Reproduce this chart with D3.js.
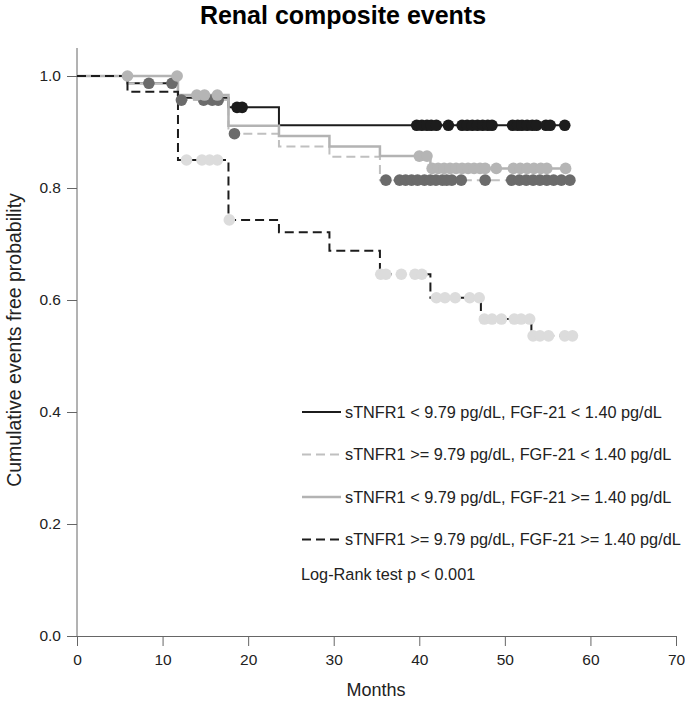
<!DOCTYPE html>
<html>
<head>
<meta charset="utf-8">
<script src="https://cdn.jsdelivr.net/npm/d3@7"></script>
<style>
  body { margin: 0; background: #fff; }
  svg { display: block; font-family: "Liberation Sans", Arial, sans-serif; }
  .tick text { font-size: 15.5px; fill: #222; }
  .tick line, .domain { stroke: #666; }
</style>
</head>
<body>
<svg width="685" height="709"></svg>
<script>
// visit-based event times (months)
const g1Times = [0, 5.9, 11.8, 17.7, 23.6];
const g1Surv = [1, 0.987, 0.961, 0.944, 0.912];
const g1Censor = [18.7, 19.3, 39.7, 40.3, 40.9, 41.4, 42, 43.4, 45, 45.6, 46.2, 46.8, 47.4, 48, 48.5,
  50.9, 51.5, 52, 52.6, 53.2, 53.7, 54.8, 55.3, 57];

const g2Times = [0, 5.9, 11.8, 17.7, 23.6, 29.5, 35.4];
const g2Surv = [1, 0.987, 0.957, 0.897, 0.874, 0.856, 0.814];
const g2Censor = [8.4, 11.1, 12.2, 14.8, 15.8, 16.5, 18.4, 36.1, 37.7, 38.4, 39.1, 39.8, 40.6, 41.3,
  41.95, 42.7, 43.2, 43.8, 44.9, 47.7, 50.8, 51.7, 52.5, 53.3, 54.1, 54.9, 55.7, 56.6, 57.6];

const g3Times = [0, 11.8, 17.7, 23.6, 29.5, 35.4, 41.3];
const g3Surv = [1, 0.966, 0.911, 0.893, 0.874, 0.857, 0.835];
const g3Censor = [5.9, 11.7, 14, 14.9, 16.4, 40, 40.9, 41.5, 42.2, 42.9, 43.6, 44.3, 45, 45.7, 46.4,
  47.1, 47.7, 49, 51, 51.8, 52.6, 53.4, 54.2, 54.9, 57.1];

const g4Times = [0, 5.9, 11.8, 17.7, 23.6, 29.5, 35.4, 41.3, 47.2, 53.1];
const g4Surv = [1, 0.972, 0.85, 0.743, 0.721, 0.688, 0.646, 0.604, 0.566, 0.536];
const g4Censor = [12.8, 14.6, 15.5, 16.4, 17.8, 35.5, 36.1, 37.9, 39.5, 40.3, 42, 43, 44.2, 45.9, 47,
  47.6, 48.5, 49.6, 51.1, 51.9, 52.9, 53.3, 54.1, 55.1, 57, 57.9];

const legendLabels = [
  "sTNFR1 < 9.79 pg/dL, FGF-21 < 1.40 pg/dL",
  "sTNFR1 >= 9.79 pg/dL, FGF-21 < 1.40 pg/dL",
  "sTNFR1 < 9.79 pg/dL, FGF-21 >= 1.40 pg/dL",
  "sTNFR1 >= 9.79 pg/dL, FGF-21 >= 1.40 pg/dL"
];
const xTicks = [0, 10, 20, 30, 40, 50, 60, 70];
const yTicks = [0, 0.2, 0.4, 0.6, 0.8, 1.0];

const groups = [
  { times: g1Times, surv: g1Surv, censor: g1Censor, line: "#1c1c1c", dash: null, width: 2, mark: "#1c1c1c" },
  { times: g2Times, surv: g2Surv, censor: g2Censor, line: "#c0c0c0", dash: "9,5", width: 2, mark: "#6b6b6b" },
  { times: g3Times, surv: g3Surv, censor: g3Censor, line: "#b3b3b3", dash: null, width: 2.5, mark: "#b5b5b5" },
  { times: g4Times, surv: g4Surv, censor: g4Censor, line: "#1c1c1c", dash: "9,5", width: 2, mark: "#dcdcdc" }
];

const svg = d3.select("svg");
const x = d3.scaleLinear().domain([0, 70]).range([77, 676]);
const y = d3.scaleLinear().domain([0, 1]).range([636, 76]);

svg.append("text")
  .attr("x", 343).attr("y", 24)
  .attr("text-anchor", "middle")
  .style("font-size", "25px").style("font-weight", "bold")
  .text("Renal composite events");

// axes
const yAxis = svg.append("g")
  .attr("transform", `translate(${x(0)},0)`)
  .call(d3.axisLeft(y).tickValues(yTicks).tickFormat(d3.format(".1f")).tickSize(10).tickSizeOuter(0).tickPadding(6));
yAxis.select(".domain").remove();
svg.append("line")
  .attr("x1", x(0)).attr("x2", x(0))
  .attr("y1", y(0)).attr("y2", y(1.05))
  .attr("stroke", "#666");

svg.append("g")
  .attr("transform", `translate(0,${y(0)})`)
  .call(d3.axisBottom(x).tickValues(xTicks).tickSize(10).tickSizeOuter(0).tickPadding(8));

svg.append("text")
  .attr("x", 376).attr("y", 696)
  .attr("text-anchor", "middle")
  .style("font-size", "18px").attr("fill", "#222")
  .text("Months");

svg.append("text")
  .attr("transform", `translate(21,340) rotate(-90)`)
  .attr("text-anchor", "middle")
  .style("font-size", "19.5px").attr("fill", "#222")
  .text("Cumulative events free probability");

// curves
const line = d3.line()
  .x(d => x(d[0]))
  .y(d => y(d[1]))
  .curve(d3.curveStepAfter);

function survAt(g, t) {
  const i = d3.bisectRight(g.times, t) - 1;
  return g.surv[Math.max(0, i)];
}

groups.forEach(g => {
  const pts = g.times.map((t, i) => [t, g.surv[i]]);
  const end = d3.max([d3.max(g.censor), d3.max(g.times)]);
  pts.push([end, g.surv[g.surv.length - 1]]);
  svg.append("path")
    .datum(pts)
    .attr("d", line)
    .attr("fill", "none")
    .attr("stroke", g.line)
    .attr("stroke-width", g.width)
    .attr("stroke-dasharray", g.dash);
});

groups.forEach(g => {
  svg.append("g")
    .selectAll("circle")
    .data(g.censor)
    .join("circle")
    .attr("cx", d => x(d))
    .attr("cy", d => y(survAt(g, d)))
    .attr("r", 5.8)
    .attr("fill", g.mark);
});

// legend
const legend = svg.append("g");
const rowY = [412, 454.5, 497, 539.5];
legendLabels.forEach((lab, i) => {
  const g = groups[i];
  legend.append("line")
    .attr("x1", 302).attr("x2", 341)
    .attr("y1", rowY[i]).attr("y2", rowY[i])
    .attr("stroke", g.line)
    .attr("stroke-width", g.width)
    .attr("stroke-dasharray", g.dash);
  legend.append("text")
    .attr("x", 345).attr("y", rowY[i])
    .attr("dy", "0.36em")
    .style("font-size", "16.3px").attr("fill", "#222")
    .text(lab);
});
legend.append("text")
  .attr("x", 301).attr("y", 574)
  .attr("dy", "0.36em")
  .style("font-size", "16.3px").attr("fill", "#222")
  .text("Log-Rank test p < 0.001");
</script>
</body>
</html>
